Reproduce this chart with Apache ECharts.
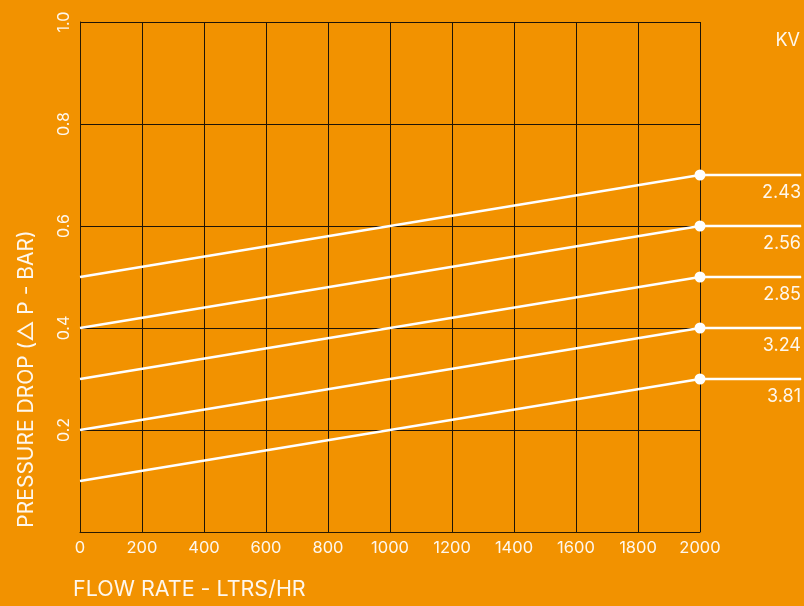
<!DOCTYPE html>
<html>
<head>
<meta charset="utf-8">
<script src="https://cdn.jsdelivr.net/npm/echarts@6/dist/echarts.min.js"></script>
<style>
  html, body { margin: 0; padding: 0; background: #F29200; }
  #chart { width: 804px; height: 606px; }
</style>
</head>
<body>
<div id="chart"></div>
<script>
const flowPoints = [0, 2000];
const leaderRange = [2000, 2326]; // white leader lines to the right of the grid
const kvValues = ["2.43", "2.56", "2.85", "3.24", "3.81"];
const dropAtZero = [0.5, 0.4, 0.3, 0.2, 0.1];
const dropAtMax = [0.7, 0.6, 0.5, 0.4, 0.3];
const yTickLabels = ["", "0.2", "0.4", "0.6", "0.8", "1.0"];

const textColor = "rgba(255,255,255,0.93)";
const font = "Inter";

const lineSeries = kvValues.map((kv, i) => ({
	name: kv,
	type: "line",
	xAxisIndex: 0,
	yAxisIndex: 0,
	symbol: "circle",
	symbolSize: 11,
	z: 3,
	lineStyle: { color: "#fff", width: 2.5 },
	itemStyle: { color: "#fff" },
	silent: true,
	data: [
		{ value: [flowPoints[0], dropAtZero[i]], symbol: "none" },
		{ value: [flowPoints[1], dropAtMax[i]] },
	],
}));

const leaderSeries = kvValues.map((kv, i) => ({
	name: kv + " leader",
	type: "line",
	xAxisIndex: 1,
	yAxisIndex: 1,
	symbol: "circle",
	symbolSize: 1,
	z: 2,
	lineStyle: { color: "#fff", width: 2.5 },
	itemStyle: { color: "#fff" },
	silent: true,
	data: [
		{ value: [leaderRange[0], dropAtMax[i]] },
		{
			value: [leaderRange[1], dropAtMax[i]],
			label: {
				show: true,
				formatter: kv,
				position: "bottom",
				align: "right",
				distance: 8,
				color: textColor,
				fontFamily: font,
				fontSize: 18,
			},
		},
	],
}));

const option = {
	backgroundColor: "#F29200",
	animation: false,
	textStyle: { fontFamily: font },
	grid: [
		{ left: 80, right: 104, top: 22, bottom: 74 },
		{ left: 700, right: 3, top: 22, bottom: 74 },
	],
	title: {
		text: "KV",
		right: 4,
		top: 32,
		padding: 0,
		textStyle: { color: textColor, fontFamily: font, fontSize: 18, fontWeight: "normal" },
	},
	xAxis: [
		{
			type: "value",
			gridIndex: 0,
			min: 0,
			max: 2000,
			interval: 200,
			name: "FLOW RATE - LTRS/HR",
			nameLocation: "start",
			nameGap: 7,
			nameTextStyle: {
				color: textColor,
				fontFamily: font,
				fontSize: 21.5,
				align: "left",
				verticalAlign: "top",
				padding: [47, 0, 0, 0],
			},
			axisLine: { show: true, lineStyle: { color: "#2a1a00", width: 1 } },
			axisTick: { show: false },
			axisLabel: {
				color: textColor,
				fontFamily: font,
				fontSize: 16.5,
				margin: 8,
				formatter: (v) => String(v),
			},
			splitLine: { show: true, lineStyle: { color: "#1e1406", width: 1 } },
		},
		{
			type: "value",
			gridIndex: 1,
			min: leaderRange[0],
			max: leaderRange[1],
			show: false,
		},
	],
	yAxis: [
		{
			type: "value",
			gridIndex: 0,
			min: 0,
			max: 1,
			interval: 0.2,
			axisLine: { show: true, lineStyle: { color: "#2a1a00", width: 1 } },
			axisTick: { show: false },
			axisLabel: {
				color: textColor,
				fontFamily: font,
				fontSize: 16,
				rotate: 90,
				margin: 8,
				formatter: (v, idx) => yTickLabels[idx],
			},
			splitLine: { show: true, lineStyle: { color: "#1e1406", width: 1 } },
		},
		{
			type: "value",
			gridIndex: 1,
			min: 0,
			max: 1,
			show: false,
		},
	],
	graphic: [
		{
			type: "text",
			x: 27,
			y: 379,
			rotation: Math.PI / 2,
			style: {
				text: "PRESSURE DROP (\u25B3 P - BAR)",
				fill: textColor,
				font: "21px Inter",
				align: "center",
				verticalAlign: "middle",
			},
		},
	],
	series: lineSeries.concat(leaderSeries),
};

const chart = echarts.init(document.getElementById("chart"));
chart.setOption(option);
</script>
</body>
</html>
